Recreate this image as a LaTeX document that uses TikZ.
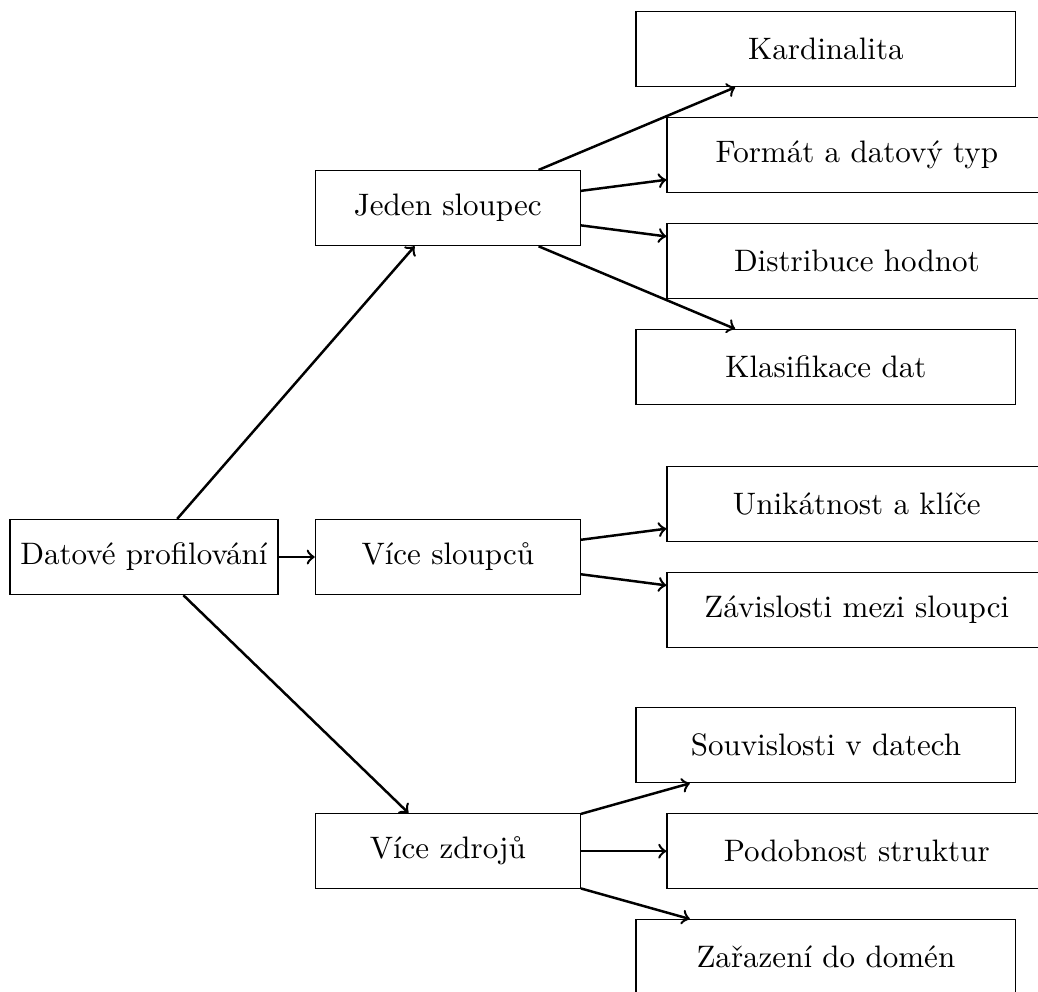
\documentclass[tikz,border=0pt]{standalone}
\usepackage{tikz}
\usetikzlibrary{calc}

\begin{document}
\begin{tikzpicture}[
  box/.style={draw, rectangle, minimum height=0.85cm},
  midbox/.style={box, minimum width=3cm},
  leafbox/.style={box, minimum width=4.3cm},
  arr/.style={->, thick}
]

% Fix the size of the picture
\useasboundingbox (-1.63,-4.913) rectangle (10.121,6.306);

% Root and the three groups
\node[box] (root) at (0,0) {Datové profilování};
\node[midbox] (single) at (3.44,3.95) {Jeden sloupec};
\node[midbox] (multi) at (3.44,0) {Více sloupců};
\node[midbox] (sources) at (3.44,-3.33) {Více zdrojů};

% Leaves of Jeden sloupec
\node[leafbox] (card) at ($(single)+(4.28,1.8)$) {Kardinalita};
\node[leafbox] (format) at ($(single)+(4.63,0.6)$) {Formát a datový typ};
\node[leafbox] (distr) at ($(single)+(4.63,-0.6)$) {Distribuce hodnot};
\node[leafbox] (classif) at ($(single)+(4.28,-1.8)$) {Klasifikace dat};

% Leaves of Více sloupců
\node[leafbox] (unique) at ($(multi)+(4.63,0.6)$) {Unikátnost a klíče};
\node[leafbox] (depend) at ($(multi)+(4.63,-0.6)$) {Závislosti mezi sloupci};

% Leaves of Více zdrojů
\node[leafbox] (relat) at ($(sources)+(4.28,1.2)$) {Souvislosti v datech};
\node[leafbox] (similar) at ($(sources)+(4.63,0)$) {Podobnost struktur};
\node[leafbox] (domain) at ($(sources)+(4.28,-1.2)$) {Zařazení do domén};

% Arrows from the root
\draw[arr] (root) -- (single);
\draw[arr] (root) -- (multi);
\draw[arr] (root) -- (sources);

% Arrows to the leaves
\draw[arr] (single) -- (card);
\draw[arr] (single) -- (format);
\draw[arr] (single) -- (distr);
\draw[arr] (single) -- (classif);
\draw[arr] (multi) -- (unique);
\draw[arr] (multi) -- (depend);
\draw[arr] (sources) -- (relat);
\draw[arr] (sources) -- (similar);
\draw[arr] (sources) -- (domain);

\end{tikzpicture}
\end{document}
